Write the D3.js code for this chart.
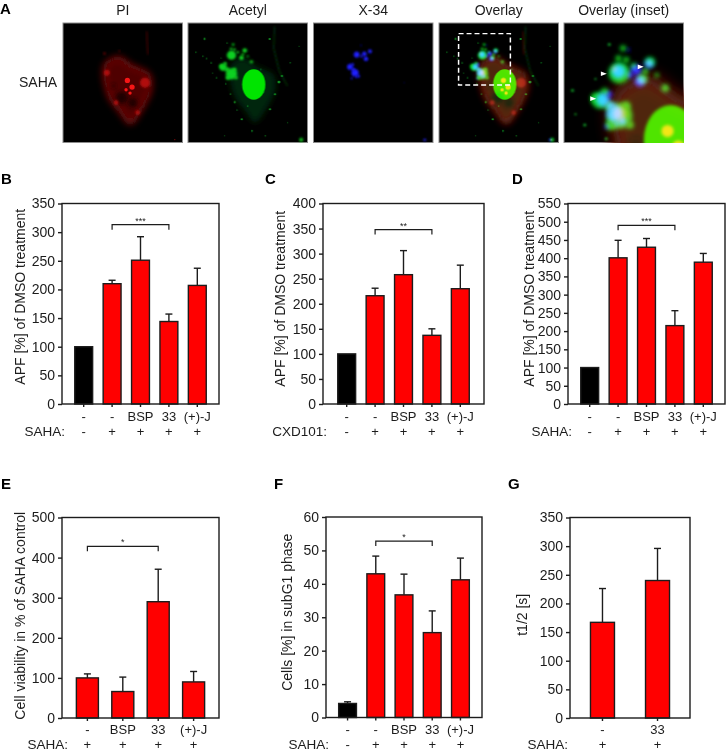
<!DOCTYPE html>
<html>
<head>
<meta charset="utf-8">
<script src="https://cdn.jsdelivr.net/npm/d3@7"></script>
<style>
	html, body { margin: 0; padding: 0; background: #fff; }
	svg { display: block; }
	text { font-family: "Liberation Sans", Arial, sans-serif; fill: #1c1c1c; }
</style>
</head>
<body>
<div id="figure"></div>
<script>
// Bar values
let labelsB = ["-", "-", "BSP", "33", "(+)-J"];
let saha5 = ["-", "+", "+", "+", "+"];
let valuesB = [100, 210, 251, 144, 207];
let errorsB = [null, 216, 292, 157, 237];
let ticksB = [0, 50, 100, 150, 200, 250, 300, 350];

let valuesC = [100, 216, 258, 137, 230];
let errorsC = [null, 231, 306, 150, 277];
let ticksC = [0, 50, 100, 150, 200, 250, 300, 350, 400];

let valuesD = [100, 401, 430, 215, 389];
let errorsD = [null, 449, 454, 256, 413];
let ticksD = [0, 50, 100, 150, 200, 250, 300, 350, 400, 450, 500, 550];

let labelsE = ["-", "BSP", "33", "(+)-J"];
let sahaE = ["+", "+", "+", "+"];
let valuesE = [100, 66, 290, 90];
let errorsE = [110, 102, 371, 116];
let ticksE = [0, 100, 200, 300, 400, 500];

let valuesF = [4.2, 43, 36.7, 25.4, 41.2];
let errorsF = [4.7, 48.3, 42.9, 31.9, 47.7];
let ticksF = [0, 10, 20, 30, 40, 50, 60];

let labelsG = ["-", "33"];
let sahaG = ["+", "+"];
let valuesG = [167, 240];
let errorsG = [226, 296];
let ticksG = [0, 50, 100, 150, 200, 250, 300, 350];

// Micrograph blobs, in a 360 x 360 image space: x, y, r
let cellOutline = [[125,135],[165,105],[207,130],[257,155],[262,205],[232,265],[202,300],[172,265],[137,215]];
let redBlobs = [[132,150,9],[247,180,15],[125,92,3],[170,84,2],[225,270,7],[160,240,7]];
let redDots = [[194,173,8],[208,193,8],[190,201,5],[202,211,5],[337,352,1.5]];
let redHoles = [[177,225,18],[152,190,6],[210,240,14]];
let greenBlobs = [[131,97,14],[131,153,17],[106,133,11],[161,105,7],[136,65,4],[171,83,7],[191,117,5],[341,352,6],
	[118,140,7],[100,130,6],[112,122,5],[120,165,7],[145,165,5],[140,140,6],[150,88,4],[140,80,4],[165,95,4],[180,100,3],[130,78,4]];
let greenSpecks = [[50,48,3],[24,88,2],[45,100,2],[56,107,2],[70,120,2],[74,151,1.5],[86,165,2],[114,183,2],[128,214,2],
	[141,238,3],[162,290,3],[193,325,2.5],[233,340,2],[247,260,3],[262,215,3],[274,178,4],[283,160,3],[308,120,2],[246,48,3],
	[180,250,2],[148,262,2],[220,140,2],[228,208,2],[100,105,1.5],[118,60,2],[335,70,1.5],[300,300,1.5],[110,340,1.5]];
let blueBlobs = [[130,95,9],[153,93,7],[170,85,6],[158,108,7],[110,132,9],[125,150,11],[115,167,3],[128,163,3],[143,67,2],[335,352,4],[273,180,1.5],
	[120,140,5],[135,160,5],[118,125,4],[145,100,4]];
let insetArrows = [[120,153],[231,132],[88,228]];

let width = 726, height = 752;
let imageX = [63, 188, 313.5, 439, 564];
let imageY = 23, imageSize = 119.5;
let imageTitles = ["PI", "Acetyl", "X-34", "Overlay", "Overlay (inset)"];

let svg = d3.select("#figure").append("svg")
	.attr("width", width)
	.attr("height", height);

let defs = svg.append("defs");
[1.5, 2, 3, 6, 10].forEach(function(s) {
	defs.append("filter")
		.attr("id", "blur" + String(s).replace(".", "_"))
		.attr("x", "-60%").attr("y", "-60%").attr("width", "220%").attr("height", "220%")
		.append("feGaussianBlur")
		.attr("stdDeviation", s);
});
defs.append("clipPath").attr("id", "imageClip")
	.append("rect").attr("width", 360).attr("height", 360);

let cellLine = d3.line().curve(d3.curveCardinalClosed);

function circles(g, list, color, blur) {
	g.selectAll(null)
		.data(list)
		.enter()
		.append("circle")
		.attr("cx", d => d[0])
		.attr("cy", d => d[1])
		.attr("r", d => d[2])
		.attr("fill", color)
		.attr("filter", "url(#blur" + String(blur).replace(".", "_") + ")");
}

function drawRed(g) {
	g.append("path").attr("d", cellLine(cellOutline))
		.attr("fill", "#500606")
		.attr("stroke", "#6c0909")
		.attr("stroke-width", 14)
		.attr("filter", "url(#blur10)");
	circles(g, redHoles, "#1c0000", 6);
	circles(g, redBlobs, "#b01010", 3);
	circles(g, redDots, "#f51418", 2);
	g.append("path").attr("d", "M252,25L256,95")
		.attr("stroke", "#3a0606").attr("stroke-width", 5).attr("filter", "url(#blur3)");
}

function drawGreen(g) {
	g.append("path").attr("d", cellLine(cellOutline))
		.attr("fill", "#06280a").attr("filter", "url(#blur10)");
	g.append("path").attr("d", "M261,10L258,75L275,145L300,190")
		.attr("stroke", "#082a0c").attr("stroke-width", 5).attr("fill", "none").attr("filter", "url(#blur3)");
	g.append("ellipse")
		.attr("cx", 198).attr("cy", 185).attr("rx", 35).attr("ry", 46)
		.attr("fill", "#00e400").attr("filter", "url(#blur2)");
	circles(g, greenBlobs, "#10d020", 3);
	circles(g, greenSpecks, "#12a428", 1.5);
}

function drawBlue(g) {
	circles(g, blueBlobs, "#2020ff", 3);
}

function channelLayer(parent, draw) {
	let layer = parent.append("g").style("mix-blend-mode", "screen");
	draw(layer);
}

function drawImage(i, layers, transform) {
	let x = d3.scaleLinear().domain([0, 360]).range([0, imageSize]);
	let k = x(1);
	let panel = svg.append("g")
		.attr("transform", "translate(" + imageX[i] + "," + imageY + ")scale(" + k + ")")
		.style("isolation", "isolate");
	panel.append("rect")
		.attr("width", 360).attr("height", 360)
		.attr("fill", "#000")
		.attr("stroke", "#8c8c8c")
		.attr("stroke-width", 3);
	let inner = panel.append("g").attr("clip-path", "url(#imageClip)")
		.append("g").attr("transform", transform || "")
		.style("isolation", "isolate");
	layers.forEach(d => channelLayer(inner, d));
	svg.append("text")
		.attr("x", imageX[i] + imageSize / 2)
		.attr("y", 15)
		.attr("text-anchor", "middle")
		.style("font-size", "14px")
		.text(imageTitles[i]);
	return panel;
}

drawImage(0, [drawRed]);
drawImage(1, [drawGreen]);
drawImage(2, [drawBlue]);
let overlay = drawImage(3, [drawRed, drawGreen, drawBlue]);
overlay.append("rect")
	.attr("x", 59).attr("y", 32).attr("width", 156).attr("height", 155)
	.attr("fill", "none")
	.attr("stroke", "#fff")
	.attr("stroke-width", 4.5)
	.attr("stroke-dasharray", "15,9");
// inset is the dashed box blown up
let inset = drawImage(4, [drawRed, drawGreen, drawBlue], "scale(2.31)translate(-59,-32)");
inset.selectAll(null)
	.data(insetArrows)
	.enter()
	.append("path")
	.attr("d", d => "M" + (d[0] - 9) + "," + (d[1] - 7) + "L" + (d[0] + 9) + "," + d[1] + "L" + (d[0] - 9) + "," + (d[1] + 7) + "Z")
	.attr("fill", "#fff");

svg.append("text").attr("x", 19).attr("y", 87).style("font-size", "14px").text("SAHA");

function letter(t, x, y) {
	svg.append("text")
		.attr("x", x).attr("y", y)
		.style("font-size", "15px")
		.style("font-weight", "bold")
		.style("fill", "#000")
		.text(t);
}
letter("A", 0, 14);
letter("B", 1, 184);
letter("C", 265, 184);
letter("D", 512, 184);
letter("E", 1, 489);
letter("F", 274, 489);
letter("G", 508, 489);

function drawBars(opt) {
	let x = d3.scaleBand()
		.domain(opt.values.map((d, i) => i))
		.range([opt.left, opt.right])
		.paddingInner(opt.inner)
		.paddingOuter(opt.outer);
	let y = d3.scaleLinear()
		.domain([opt.ticks[0], opt.ticks[opt.ticks.length - 1]])
		.range([opt.bottom, opt.top]);
	let g = svg.append("g");
	let color = "#1c1c1c";
	let lw = 1.4;

	// error bars go under the bars
	let errs = opt.values.map((d, i) => ({i: i, top: opt.errors[i]})).filter(d => d.top !== null);
	let cx = i => x(i) + x.bandwidth() / 2;
	g.selectAll(".stem").data(errs).enter().append("line")
		.attr("class", "stem")
		.attr("x1", d => cx(d.i)).attr("x2", d => cx(d.i))
		.attr("y1", d => y(opt.values[d.i])).attr("y2", d => y(d.top))
		.attr("stroke", color).attr("stroke-width", lw);
	g.selectAll(".cap").data(errs).enter().append("line")
		.attr("class", "cap")
		.attr("x1", d => cx(d.i) - 3.5).attr("x2", d => cx(d.i) + 3.5)
		.attr("y1", d => y(d.top)).attr("y2", d => y(d.top))
		.attr("stroke", color).attr("stroke-width", lw);

	g.selectAll(".bar").data(opt.values).enter().append("rect")
		.attr("class", "bar")
		.attr("x", (d, i) => x(i))
		.attr("y", d => y(d))
		.attr("width", x.bandwidth())
		.attr("height", d => opt.bottom - y(d))
		.attr("fill", (d, i) => opt.blackFirst && i === 0 ? "#000" : "#ff0000")
		.attr("stroke", color)
		.attr("stroke-width", lw);

	// frame
	g.append("rect")
		.attr("x", opt.left).attr("y", opt.top)
		.attr("width", opt.right - opt.left).attr("height", opt.bottom - opt.top)
		.attr("fill", "none").attr("stroke", color).attr("stroke-width", lw);

	let yAxis = d3.axisLeft(y).tickValues(opt.ticks).tickSize(4).tickPadding(3);
	let yG = g.append("g").attr("transform", "translate(" + opt.left + ",0)").call(yAxis);
	yG.select(".domain").remove();
	yG.selectAll("line").attr("stroke", color).attr("stroke-width", lw);
	yG.selectAll("text").style("font-size", "14px").style("font-family", null).attr("fill", null);

	// the two label rows sit tight, so they run a bit smaller than the ticks
	let xAxis = d3.axisBottom(x).tickSize(3).tickFormat((d, i) => opt.labels[i]).tickPadding(opt.row1 - opt.bottom - 12.2);
	let xG = g.append("g").attr("transform", "translate(0," + opt.bottom + ")").call(xAxis);
	xG.select(".domain").remove();
	xG.selectAll("line").attr("stroke", color).attr("stroke-width", lw);
	xG.selectAll("text").style("font-size", "13px").attr("fill", null);

	g.selectAll(".row2").data(opt.row2Values).enter().append("text")
		.attr("class", "row2")
		.attr("x", (d, i) => cx(i))
		.attr("y", opt.row2)
		.attr("text-anchor", "middle")
		.style("font-size", "13px")
		.text(d => d);
	g.append("text")
		.attr("x", opt.nameX).attr("y", opt.row2)
		.attr("text-anchor", "end")
		.style("font-size", "13.5px")
		.text(opt.name);

	g.append("text")
		.attr("transform", "translate(" + opt.labelX + "," + ((opt.bottom + opt.top) / 2 + opt.labelShift) + ")rotate(-90)")
		.attr("text-anchor", "middle")
		.style("font-size", "14px")
		.text(opt.yLabel);

	// significance bracket
	if (opt.bracket) {
		let x1 = cx(opt.bracket[0]), x2 = cx(opt.bracket[1]), by = y(opt.bracket[2]);
		g.append("path")
			.attr("d", "M" + x1 + "," + (by + 5) + "V" + by + "H" + x2 + "V" + (by + 5))
			.attr("fill", "none").attr("stroke", color).attr("stroke-width", 1.2);
		g.append("text")
			.attr("x", (x1 + x2) / 2).attr("y", by - 1)
			.attr("text-anchor", "middle")
			.style("font-size", "9px")
			.text(opt.bracket[3]);
	}
}

let aplLabel = "APF [%] of DMSO treatment";
let in5 = 0.37, out5 = 0.449;

drawBars({values: valuesB, errors: errorsB, ticks: ticksB, labels: labelsB, row2Values: saha5, name: "SAHA:", yLabel: aplLabel,
	bracket: [1, 3, 313, "***"], blackFirst: true,
	left: 62, right: 219, top: 203.5, bottom: 404, inner: in5, outer: out5, row1: 421, row2: 436, nameX: 65, labelX: 25, labelShift: -7});
drawBars({values: valuesC, errors: errorsC, ticks: ticksC, labels: labelsB, row2Values: saha5, name: "CXD101:", yLabel: aplLabel,
	bracket: [1, 3, 348, "**"], blackFirst: true,
	left: 323, right: 484, top: 203.5, bottom: 404, inner: in5, outer: out5 + 0.07, row1: 421, row2: 436, nameX: 327, labelX: 285, labelShift: -5});
drawBars({values: valuesD, errors: errorsD, ticks: ticksD, labels: labelsB, row2Values: saha5, name: "SAHA:", yLabel: aplLabel,
	bracket: [1, 3, 490, "***"], blackFirst: true,
	left: 568, right: 725, top: 203.5, bottom: 404, inner: in5, outer: out5, row1: 421, row2: 436, nameX: 572, labelX: 534, labelShift: -5});
drawBars({values: valuesE, errors: errorsE, ticks: ticksE, labels: labelsE, row2Values: sahaE, name: "SAHA:", yLabel: "Cell viability in % of SAHA control",
	bracket: [0, 2, 428, "*"],
	left: 62, right: 219, top: 517.5, bottom: 718, inner: 0.378, outer: 0.406, row1: 734, row2: 749, nameX: 68, labelX: 25, labelShift: -2});
drawBars({values: valuesF, errors: errorsF, ticks: ticksF, labels: labelsB, row2Values: saha5, name: "SAHA:", yLabel: "Cells [%] in subG1 phase",
	bracket: [1, 3, 52.8, "*"], blackFirst: true,
	left: 326, right: 482, top: 517, bottom: 717.5, inner: in5, outer: out5, row1: 734, row2: 749, nameX: 329, labelX: 292, labelShift: -5});
drawBars({values: valuesG, errors: errorsG, ticks: ticksG, labels: labelsG, row2Values: sahaG, name: "SAHA:", yLabel: "t1/2 [s]",
	left: 570, right: 690, top: 517.5, bottom: 718, inner: 0.564, outer: 0.372, row1: 734, row2: 749, nameX: 568, labelX: 527, labelShift: -3});
</script>
</body>
</html>
